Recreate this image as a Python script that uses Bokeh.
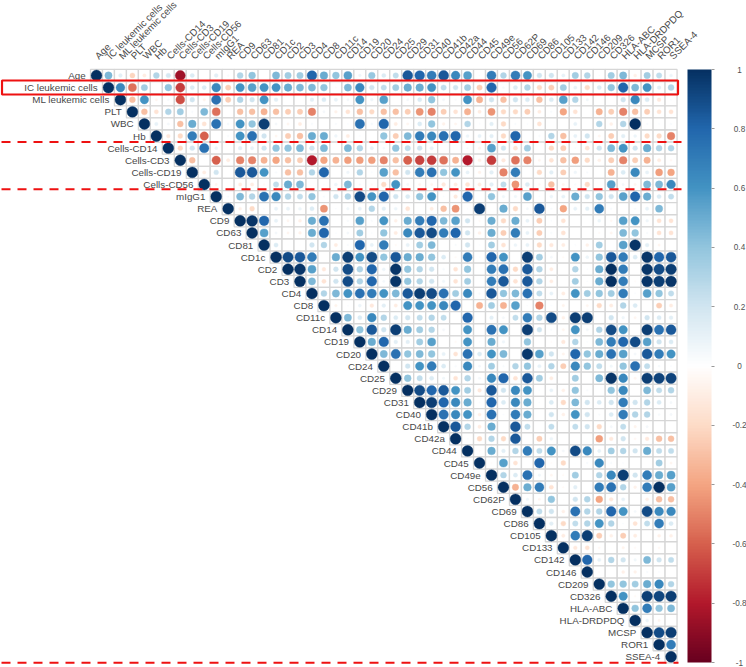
import math
from bokeh.plotting import figure
from bokeh.embed import file_html
from bokeh.resources import INLINE
from bokeh.core.properties import value
from bokeh.models import Range1d, ColorBar, LinearColorMapper, FixedTicker, CustomJSTickFormatter

labels = ["Age","IC leukemic cells","ML leukemic cells","PLT","WBC","Hb","Cells-CD14","Cells-CD3","Cells-CD19","Cells-CD56",
          "mIgG1","REA","CD9","CD63","CD81","CD1c","CD2","CD3","CD4","CD8","CD11c","CD14","CD19","CD20","CD24","CD25",
          "CD29","CD31","CD40","CD41b","CD42a","CD44","CD45","CD49e","CD56","CD62P","CD69","CD86","CD105","CD133",
          "CD142","CD146","CD209","CD326","HLA-ABC","HLA-DRDPDQ","MCSP","ROR1","SSEA-4"]

# Upper triangle of the correlation matrix; each row starts at its diagonal cell
r00 = [1,.45,.12,-.22,-.1,.3,.18,-.85,.15,0,.12,.03,.3,.4,0,.45,.35,.35,.8,.5,.4,.55,.07,.38,.15,.25,.85,.8,.7,.85,.65,.55,.02,.7,.3,.7,.6,.2,.2,.1,.35,.3,.02,.35,.45,-.08,.35,.25,.08]
r01 = [1,.65,-.55,.35,0,.4,-.7,.15,.15,.65,-.25,.6,.55,.6,.6,.5,.45,.45,.4,-.02,.45,.65,.2,.25,.35,.5,.5,.6,.25,.2,.35,-.25,.8,.04,.15,.3,-.2,-.25,.35,.1,-.2,.15,.4,.8,.45,.6,.12,.3]
r02 = [1,-.3,.6,-.05,.04,-.65,.2,-.06,.75,-.25,.3,.2,.6,.12,0,0,.12,.15,.1,.05,.6,.07,.55,0,.05,.15,.4,.05,.03,.6,-.35,.2,-.3,.2,.15,-.3,.15,.55,.3,.06,0,0,.2,.65,.15,-.12,.02]
r03 = [1,-.3,-.15,.3,.35,.03,.45,-.55,0,-.3,-.3,-.35,-.3,-.25,-.25,-.5,.05,-.07,-.15,-.3,-.2,-.3,-.3,-.25,-.45,-.5,-.25,-.15,-.35,-.1,-.45,-.2,-.2,-.25,-.1,.03,-.4,-.15,0,-.35,-.25,-.5,-.3,-.25,-.15,-.15]
r04 = [1,.1,.05,-.3,.5,-.15,.75,.04,.6,.4,.95,.05,-.05,-.1,.03,0,.03,.02,.75,.04,.8,-.1,-.05,.15,.4,-.07,-.05,.3,.02,.12,-.2,.03,.02,-.15,0,0,.1,0,.3,-.08,.3,1,.03,.02,.03]
r05 = [1,-.12,-.2,.7,-.6,0,.03,.6,.75,.2,-.05,-.25,-.3,.5,.5,.07,-.1,.02,0,.4,-.25,.45,.7,.65,.75,.8,.08,.1,.12,-.2,.8,0,.03,.3,-.3,.1,.2,-.05,-.25,.12,.08,-.2,-.2,-.5]
r06 = [1,-.2,.2,.75,.08,0,.12,.1,.2,.4,.4,.45,.2,.45,0,.45,.3,.1,.04,.4,.25,.2,.1,0,0,.03,-.06,.55,.2,-.15,.35,0,-.2,-.25,.02,-.15,.2,.45,.6,.2,.5,.3,.3]
r07 = [1,-.3,.01,-.6,-.1,-.5,-.5,-.35,-.4,-.3,-.25,-.8,-.4,-.35,-.42,-.42,-.42,-.5,-.3,-.6,-.68,-.7,-.55,-.35,-.8,-.08,-.7,-.12,-.55,-.5,-.05,-.15,-.3,-.42,-.2,-.08,-.25,-.5,-.25,-.35,-.1,-.04]
r08 = [1,-.1,.2,0,.85,.85,.6,.03,-.3,-.3,.3,.8,0,.07,.3,.02,.55,-.3,.2,.7,.75,.4,.6,.1,-.07,.12,-.5,.7,0,-.2,.12,-.25,.07,.03,0,-.35,.15,.65,.1,-.42,-.4]
r09 = [1,-.05,0,-.1,-.1,-.03,.25,.5,.45,0,.02,.08,.45,.03,-.03,-.2,.6,.05,-.05,-.05,-.12,-.1,-.15,-.1,.12,.25,-.45,.15,-.04,-.3,-.05,.03,-.2,0,.55,.05,-.05,.45,.45,.65]
r10 = [1,.03,.45,.3,.75,.65,.3,.25,.4,.03,.2,.3,.9,.6,.8,.2,.15,.4,.6,.02,-.12,.8,0,.4,.06,.06,.55,.02,.08,.1,.5,.2,.4,.2,.55,.8,.5,.15,.25]
r11 = [1,-.08,-.2,.02,.1,.1,.08,.15,-.45,.02,.06,.1,.3,.12,.08,-.15,0,-.1,-.3,-.45,.02,.95,0,.5,-.2,.05,.85,.03,-.4,.1,.12,.7,.03,0,.03,.1,.45,0]
r12 = [1,.98,.8,.1,-.05,-.08,.5,.75,.01,.03,.55,.03,.6,-.08,.5,.7,.8,.45,.55,.2,-.03,.5,-.2,.5,.1,-.25,.02,-.15,0,0,.08,-.04,.55,.6,.07,-.15,-.15]
r13 = [1,.55,.05,-.05,-.07,.5,.8,.02,.05,.35,.02,.4,-.1,.65,.85,.9,.7,.8,.2,-.08,.5,-.25,.7,.1,-.25,.03,-.15,0,0,-.03,-.05,.45,.4,.03,-.15,-.15]
r14 = [1,.15,.01,-.01,.2,.3,-.1,.03,.8,.1,.7,-.03,.1,.35,.45,0,.03,.2,.02,.35,-.15,.08,.1,-.2,-.12,-.1,.02,-.08,.35,0,.55,.98,.12,-.05,0]
r15 = [1,.9,.85,.7,0,.5,.95,.6,.9,.4,.85,.5,.5,.4,.15,-.03,.7,.02,.8,.6,0,.95,.35,.05,-.03,.6,.08,.4,.85,.7,.15,.98,.8,.85]
r16 = [1,.98,.55,-.12,.2,.9,.3,.8,.08,.98,.4,.3,.2,.04,-.15,.4,.01,.7,.75,-.2,.85,.3,-.1,0,.3,.02,.5,1,.7,0,.98,.9,.95]
r17 = [1,.45,-.15,.2,.9,.3,.8,.05,.98,.4,.3,.2,.06,-.15,.35,.01,.7,.85,-.15,.85,.3,-.1,0,.35,.02,.5,1,.7,-.02,.98,.95,.98]
r18 = [1,.3,.45,.6,.75,.7,.6,.45,.85,.95,.9,.75,.35,.65,.03,.85,.4,.45,.75,.25,.1,-.1,.6,.35,.4,.35,.7,.02,.55,.4,.25]
r19 = [1,-.06,.02,.08,-.12,.12,-.1,.6,.6,.6,.65,.8,0,-.35,.35,-.35,.55,.02,-.5,.02,-.06,0,-.05,-.2,-.1,.3,.15,.01,-.25,-.1]
r20 = [1,.45,.15,.65,.3,.15,.2,.25,.3,.25,0,.8,0,.12,.05,.25,.7,.3,.9,-.08,.95,.95,0,.2,.07,-.05,.2,.15,.12]
r21 = [1,.4,.85,.2,.95,.5,.35,.3,.05,0,.6,0,.75,.6,0,.95,.2,.03,-.05,.6,.05,.3,.9,.6,0,.95,.75,.85]
r22 = [1,.5,.8,.12,.12,.35,.55,0,-.03,.6,.02,.5,.07,0,.4,.01,-.02,-.12,.3,.02,.45,.7,.8,.9,.55,.2,.15]
r23 = [1,.45,.75,.4,.45,.4,.1,-.15,.75,.15,.6,.45,0,.97,.55,.2,-.06,.8,.4,.5,.75,.55,.05,.85,.7,.6]
r24 = [1,.01,.2,.6,.7,.15,.03,.65,.05,.35,.03,.3,.4,.1,.3,-.25,.65,.4,.25,.06,.4,.75,.25,.04,.02]
r25 = [1,.4,.25,.15,.06,-.15,.3,.05,.65,.8,-.15,.85,.35,-.1,0,.35,0,.45,.98,.65,-.05,.95,.93,.93]
r26 = [1,.9,.8,.85,.6,.35,-.12,.85,.2,.65,.6,.02,.1,-.08,.4,.03,0,.4,.65,0,.45,.25,.3]
r27 = [1,.95,.8,.65,.5,.02,.8,.15,.65,.5,.02,.15,-.2,.45,.2,.15,.2,.7,.2,.3,.15,.05]
r28 = [1,.75,.65,.6,-.08,.75,.02,.7,.5,0,.2,-.08,.6,.2,.03,.15,.7,.3,.3,.04,.05]
r29 = [1,.85,.3,-.1,.5,.01,.85,.25,0,.25,.01,.25,.2,-.2,.05,.25,-.06,.05,0,0]
r30 = [1,.02,-.2,.3,-.2,.85,0,-.25,.08,0,0,.01,-.42,-.12,.2,-.04,-.12,-.3,-.3]
r31 = [1,-.02,.5,.12,.3,.7,.25,.6,.05,.9,.65,.1,.35,.3,.2,.5,.25,.25]
r32 = [1,-.02,.55,-.15,0,.8,-.02,-.2,.01,.03,.65,.03,.02,0,0,.35,-.05]
r33 = [1,.3,.15,.75,.06,-.05,-.03,.35,0,.3,.65,.95,.2,.7,.5,.55]
r34 = [1,-.35,.5,.7,-.15,-.03,.12,0,.7,.75,.3,-.07,.7,1,.55]
r35 = [1,.06,-.05,.4,-.01,.2,.3,-.4,-.12,.1,0,-.08,-.3,-.3]
r36 = [1,.25,.2,-.08,.75,.3,.3,.8,.6,.05,.9,.65,.65]
r37 = [1,.12,-.2,.25,.3,.6,.3,.02,-.15,.25,.7,.15]
r38 = [1,-.1,.7,.95,-.25,-.08,-.25,-.1,.01,-.08,-.08]
r39 = [1,-.12,-.15,-.04,.01,-.06,-.03,0,-.04,0]
r40 = [1,.8,.1,.3,.2,.06,.45,.2,.25]
r41 = [1,-.02,0,-.08,-.07,.03,.02,0]
r42 = [1,.4,.4,.35,.5,.65,.3]
r43 = [1,.6,-.03,.95,.92,.95]
r44 = [1,.4,.7,.4,.45]
r45 = [1,.08,-.05,0]
r46 = [1,.9,.95]
r47 = [1,.7]
r48 = [1]

rows = [r00,r01,r02,r03,r04,r05,r06,r07,r08,r09,r10,r11,r12,r13,r14,r15,r16,r17,r18,r19,r20,r21,r22,r23,r24,
        r25,r26,r27,r28,r29,r30,r31,r32,r33,r34,r35,r36,r37,r38,r39,r40,r41,r42,r43,r44,r45,r46,r47,r48]
n = len(labels)
for i, row in enumerate(rows):
    assert len(row) == n - i, (i, len(row))

cb_ticks = [1, .8, .6, .4, .2, 0, -.2, -.4, -.6, -.8, -1]
cb_tick_labels = ["1","0.8","0.6","0.4","0.2","0","-0.2","-0.4","-0.6","-0.8","-1"]

ANCHORS = ["#67001F","#B2182B","#D6604D","#F4A582","#FDDBC7","#FFFFFF","#D1E5F0","#92C5DE","#4393C3","#2166AC","#053061"]
def ramp(t):
    t = max(-1, min(1, t))
    pos = (t + 1) * 5
    i = min(int(pos), 9)
    f = pos - i
    a = [int(ANCHORS[i][j:j+2], 16) for j in (1, 3, 5)]
    b = [int(ANCHORS[i+1][j:j+2], 16) for j in (1, 3, 5)]
    return "#%02x%02x%02x" % tuple(round(a[k] + (b[k]-a[k])*f) for k in range(3))

W, H = 746, 667
X0, DX = 96.0, 11.97     # pixel centre of column 0, column pitch
Y0, DY = 75.0, 12.11     # pixel centre of row 0, row pitch
CX = lambda px: (px - X0) / DX
CY = lambda py: (py - Y0) / DY

p = figure(width=W, height=H, output_backend="svg", toolbar_location=None,
           x_range=Range1d(CX(0), CX(W)), y_range=Range1d(CY(H), CY(0)),
           min_border=0, outline_line_color=None, background_fill_color="white",
           border_fill_color="white")
p.axis.visible = False
p.xgrid.visible = False
p.ygrid.visible = False
p.styles = {"position": "absolute", "left": "0px", "top": "0px"}

cx, cy, cv = [], [], []
for i, row in enumerate(rows):
    for j, v in enumerate(row):
        cx.append(i + j); cy.append(i); cv.append(v)

p.rect(cx, cy, width=1, height=1, fill_color="white", line_color="#d6d6d6", line_width=1.3)
keep = [k for k, v in enumerate(cv) if v != 0]
p.scatter([cx[k] for k in keep], [cy[k] for k in keep],
          size=[10.9 * math.sqrt(abs(cv[k])) for k in keep],
          fill_color=[ramp(cv[k]) for k in keep], line_color=[ramp(cv[k]) for k in keep],
          line_width=0.4, marker="circle")

TXT = "#484848"
FONT = value("Liberation Sans")
p.text([i - 0.9 for i in range(n)], list(range(n)), text=labels, text_align="right", text_baseline="middle",
       text_font=FONT, text_font_size="9.8px", text_color=TXT)
p.text(list(range(n)), [CY(57)] * n, text=labels, angle=math.pi / 4, text_align="left", text_baseline="middle",
       text_font=FONT, text_font_size="9.8px", text_color=TXT)

# colour bar
CB_TOP, CB_H = 69, 593
mapper = LinearColorMapper(palette=[ramp(-1 + 2 * (k + .5) / 200) for k in range(200)], low=-1, high=1)
cb = ColorBar(color_mapper=mapper, location=(687, H - CB_TOP - CB_H), width=24, height=CB_H, padding=0, margin=0,
              ticker=FixedTicker(ticks=cb_ticks), formatter=CustomJSTickFormatter(code="return ''"),
              major_tick_in=0, major_tick_out=3, major_tick_line_color="#999999", bar_line_color=None,
              background_fill_color=None, border_line_color=None, major_label_text_font_size="1px")
p.add_layout(cb)
p.text([CX(739)] * len(cb_ticks), [CY(CB_TOP + (1 - t) / 2 * CB_H) for t in cb_ticks], text=cb_tick_labels,
       text_align="center", text_baseline="middle", text_font=FONT, text_font_size="8.2px", text_color="#505050")

# red highlight box and dashed separators
p.quad(left=[CX(1.5)], right=[CX(677.5)], top=[CY(80)], bottom=[CY(94)], fill_alpha=0,
       line_color="#ee1111", line_width=2.2)
p.segment([CX(1)] * 2 + [CX(1)], [5.5, 9.4, 48.5], [CX(681)] * 2 + [CX(678)], [5.5, 9.4, 48.5],
          line_color="#ee1111", line_width=2, line_dash="9 7")

open("out.html", "w").write(file_html(p, INLINE))
